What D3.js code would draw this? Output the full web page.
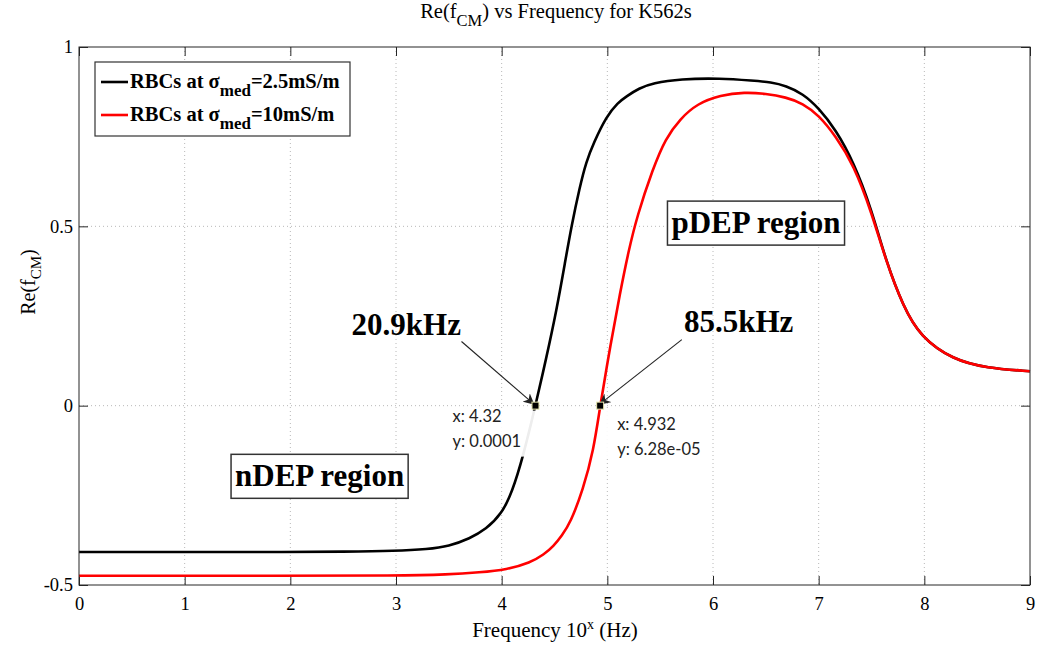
<!DOCTYPE html>
<html>
<head>
<meta charset="utf-8">
<script src="https://cdn.jsdelivr.net/npm/d3@7"></script>
<style>
  body { margin: 0; background: #fff; }
  svg { display: block; font-family: "Liberation Serif", "Times New Roman", serif; }
</style>
</head>
<body>
<svg id="chart" width="1037" height="645"></svg>
<script>
  // frequency exponent (log10 Hz) and Re(fCM)
  const lowCondX = [0, 1, 2, 2.5, 3, 3.3, 3.5, 3.7, 3.85, 4, 4.1, 4.2, 4.32, 4.42, 4.52, 4.6, 4.66, 4.74, 4.8, 4.87, 4.99, 5.1, 5.18, 5.3, 5.43, 5.69, 6.07, 6.38, 6.55, 6.69, 6.85, 7, 7.16, 7.33, 7.5, 7.64, 7.8, 7.96, 8.27, 8.59, 9];
  const lowCondY = [-0.408, -0.408, -0.408, -0.407, -0.405, -0.4, -0.392, -0.37, -0.345, -0.302, -0.24, -0.145, 0.0001, 0.13, 0.267, 0.4, 0.5, 0.611, 0.68, 0.732, 0.806, 0.845, 0.862, 0.885, 0.899, 0.911, 0.913, 0.906, 0.902, 0.892, 0.87, 0.83, 0.77, 0.68, 0.548, 0.4, 0.277, 0.193, 0.128, 0.105, 0.096];
  const highCondX = [0, 2, 3, 3.5, 3.79, 4.05, 4.27, 4.4, 4.49, 4.57, 4.65, 4.77, 4.87, 4.932, 5.03, 5.12, 5.2, 5.28, 5.43, 5.55, 5.69, 5.85, 6.07, 6.3, 6.5, 6.69, 6.85, 7, 7.16, 7.33, 7.5, 7.64, 7.8, 7.96, 8.27, 8.59, 9];
  const highCondY = [-0.474, -0.474, -0.474, -0.471, -0.465, -0.457, -0.438, -0.415, -0.392, -0.362, -0.327, -0.234, -0.125, 0.0000628, 0.17, 0.314, 0.43, 0.527, 0.66, 0.745, 0.8, 0.842, 0.866, 0.874, 0.87, 0.86, 0.843, 0.81, 0.752, 0.672, 0.54, 0.4, 0.277, 0.193, 0.128, 0.105, 0.096];

  const xTicks = [0, 1, 2, 3, 4, 5, 6, 7, 8, 9];
  const yTicks = [-0.5, 0, 0.5, 1];
  const yTickLabels = ["-0.5", "0", "0.5", "1"];
  const legendValues = ["=2.5mS/m", "=10mS/m"];

  // data tips: marker position, tip text, callout label and arrow start (data units)
  const tips = [
    { x: 4.32, y: 0.0001, lines: ["x: 4.32", "y: 0.0001"], label: "20.9kHz", lx: 2.58, ly: 0.198, ax: 3.62, ay: 0.179 },
    { x: 4.932, y: 0.0000628, lines: ["x: 4.932", "y: 6.28e-05"], label: "85.5kHz", lx: 5.725, ly: 0.206, ax: 5.705, ay: 0.184 }
  ];
  const regions = [
    { text: "nDEP region", x: 2.277, y: -0.197 },
    { text: "pDEP region", x: 6.407, y: 0.509 }
  ];

  const svg = d3.select("#chart");
  const margin = { top: 47, right: 7, bottom: 60, left: 79 };
  const width = 1037 - margin.left - margin.right;
  const height = 645 - margin.top - margin.bottom;
  const x = d3.scaleLinear().domain([0, 9]).range([0, width]);
  const y = d3.scaleLinear().domain([-0.5, 1]).range([height, 0]);
  const g = svg.append("g").attr("transform", `translate(${margin.left},${margin.top})`);

  // grid
  g.append("g").selectAll("line").data(xTicks.slice(1, -1)).join("line")
    .attr("x1", (d) => x(d)).attr("x2", (d) => x(d)).attr("y1", 0).attr("y2", height)
    .attr("stroke", "#b8b8b8").attr("stroke-width", 1).attr("stroke-dasharray", "1,3");
  g.append("g").selectAll("line").data(yTicks.slice(1, -1)).join("line")
    .attr("y1", (d) => y(d)).attr("y2", (d) => y(d)).attr("x1", 0).attr("x2", width)
    .attr("stroke", "#b8b8b8").attr("stroke-width", 1).attr("stroke-dasharray", "1,3");

  // ticks on all four sides, pointing inwards
  const tickLen = 9;
  const axisColor = "#262626";
  g.append("g").call(d3.axisBottom(x).tickValues(xTicks).tickSize(-tickLen).tickPadding(12).tickFormat(d3.format("d")))
    .attr("transform", `translate(0,${height})`)
    .call((a) => a.select(".domain").remove())
    .call((a) => a.selectAll("line").attr("stroke", axisColor))
    .call((a) => a.selectAll("text").attr("fill", "#000").style("font-size", "18.5px").style("font-family", "Liberation Serif"));
  g.append("g").call(d3.axisTop(x).tickValues(xTicks).tickSize(-tickLen).tickFormat(""))
    .call((a) => a.select(".domain").remove())
    .call((a) => a.selectAll("line").attr("stroke", axisColor));
  g.append("g").call(d3.axisLeft(y).tickValues(yTicks).tickSize(-tickLen).tickPadding(6).tickFormat((d, i) => yTickLabels[i]))
    .call((a) => a.select(".domain").remove())
    .call((a) => a.selectAll("line").attr("stroke", axisColor))
    .call((a) => a.selectAll("text").attr("fill", "#000").style("font-size", "18.5px").style("font-family", "Liberation Serif"));
  g.append("g").attr("transform", `translate(${width},0)`)
    .call(d3.axisRight(y).tickValues(yTicks).tickSize(-tickLen).tickFormat(""))
    .call((a) => a.select(".domain").remove())
    .call((a) => a.selectAll("line").attr("stroke", axisColor));

  // curves
  const line = d3.line().x((d) => x(d[0])).y((d) => y(d[1])).curve(d3.curveBasis);
  const lowPts = lowCondX.map((v, i) => [v, lowCondY[i]]);
  const highPts = highCondX.map((v, i) => [v, highCondY[i]]);
  g.append("path").attr("d", line(lowPts)).attr("fill", "none").attr("stroke", "#000").attr("stroke-width", 2.6);
  g.append("path").attr("d", line(highPts)).attr("fill", "none").attr("stroke", "#ff0000").attr("stroke-width", 2.6);

  // frame
  g.append("rect").attr("x", 0).attr("y", 0).attr("width", width).attr("height", height)
    .attr("fill", "none").attr("stroke", axisColor).attr("stroke-width", 1);

  // data tips
  svg.append("defs").append("marker")
    .attr("id", "arrow").attr("viewBox", "0 0 10 10").attr("refX", 10).attr("refY", 5)
    .attr("markerWidth", 11).attr("markerHeight", 11).attr("markerUnits", "userSpaceOnUse").attr("orient", "auto")
    .append("path").attr("d", "M0,0 L10,5 L0,10 L3,5 Z").attr("fill", "#222");

  tips.forEach((t) => {
    const px = x(t.x), py = y(t.y);
    const left = t.x < 4.5;
    g.append("rect").attr("x", px - (left ? 93 : -6)).attr("y", py + 5).attr("width", 97).attr("height", 46)
      .attr("fill", "#fff").attr("opacity", 0.93);
    g.selectAll(null).data(t.lines).join("text")
      .attr("x", px + (left ? -83 : 17))
      .attr("y", (d, i) => py + (left ? 16 : 24) + i * 25)
      .attr("fill", "#222").style("font-family", "Lato, 'Open Sans', sans-serif").style("font-size", "16.5px")
      .text((d) => d);
    g.append("line").attr("x1", x(t.ax)).attr("y1", y(t.ay)).attr("x2", px - 1).attr("y2", py - 1)
      .attr("stroke", "#222").attr("stroke-width", 1.1).attr("marker-end", "url(#arrow)");
    g.append("rect").attr("x", px - 3.5).attr("y", py - 3.5).attr("width", 7).attr("height", 7)
      .attr("fill", "#000").attr("stroke", "#e8e8b0").attr("stroke-width", 1);
    g.append("text").attr("x", x(t.lx)).attr("y", y(t.ly))
      .attr("fill", "#000").style("font-size", "31px").style("font-weight", "bold").text(t.label);
  });

  // region labels
  regions.forEach((r) => {
    const t = g.append("text").attr("x", x(r.x)).attr("y", y(r.y) + 10).attr("text-anchor", "middle")
      .attr("fill", "#000").style("font-size", "31px").style("font-weight", "bold").text(r.text);
    const bb = t.node().getBBox();
    g.insert("rect", () => t.node()).attr("x", bb.x - 4).attr("y", y(r.y) - 22).attr("width", bb.width + 8).attr("height", 44)
      .attr("fill", "#fff").attr("stroke", "#333").attr("stroke-width", 1.5);
  });

  // legend
  const leg = svg.append("g").attr("transform", "translate(95,62)");
  leg.append("rect").attr("width", 255).attr("height", 74).attr("fill", "#fff").attr("stroke", "#333").attr("stroke-width", 1.2);
  const legColors = ["#000", "#ff0000"];
  legendValues.forEach((v, i) => {
    const ly = 20 + i * 33;
    leg.append("line").attr("x1", 6).attr("x2", 33).attr("y1", ly).attr("y2", ly).attr("stroke", legColors[i]).attr("stroke-width", 2.6);
    const t = leg.append("text").attr("x", 35).attr("y", ly + 6).attr("fill", "#000")
      .style("font-size", "20.5px").style("font-weight", "bold");
    t.append("tspan").text("RBCs at σ");
    t.append("tspan").attr("dy", 8).style("font-size", "17px").text("med");
    t.append("tspan").attr("dy", -8).text(v);
  });

  // title and axis labels
  const title = svg.append("text").attr("x", 556).attr("y", 18).attr("text-anchor", "middle").attr("fill", "#000").style("font-size", "20.5px");
  title.append("tspan").text("Re(f");
  title.append("tspan").attr("dy", 8).style("font-size", "16.5px").text("CM");
  title.append("tspan").attr("dy", -8).text(") vs Frequency for K562s");

  const xl = svg.append("text").attr("x", 555).attr("y", 637).attr("text-anchor", "middle").attr("fill", "#000").style("font-size", "21px");
  xl.append("tspan").text("Frequency 10");
  xl.append("tspan").attr("dy", -8).style("font-size", "14px").text("x");
  xl.append("tspan").attr("dy", 8).text(" (Hz)");

  const yl = svg.append("text").attr("transform", "translate(35,282) rotate(-90)").attr("text-anchor", "middle").attr("fill", "#000").style("font-size", "20px");
  yl.append("tspan").text("Re(f");
  yl.append("tspan").attr("dy", 6).style("font-size", "15px").text("CM");
  yl.append("tspan").attr("dy", -6).text(")");
</script>
</body>
</html>
